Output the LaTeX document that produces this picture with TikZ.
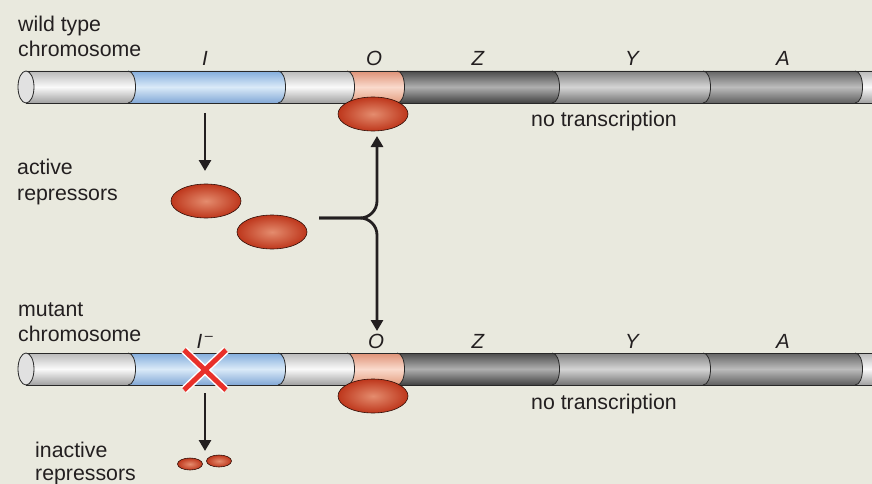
\documentclass[tikz,border=0pt]{standalone}
\usepackage{fontspec}
\setmainfont{Liberation Sans}
\usetikzlibrary{shapes.geometric,arrows.meta}

\definecolor{bg}{RGB}{233,233,222}
\definecolor{ink}{RGB}{35,31,32}
\definecolor{edgecol}{RGB}{40,40,40}
% tube segment colours: top / middle / bottom
\definecolor{wT}{RGB}{185,185,185}\definecolor{wM}{RGB}{250,250,250}\definecolor{wB}{RGB}{160,160,160}
\definecolor{bT}{RGB}{130,172,220}\definecolor{bM}{RGB}{218,234,248}\definecolor{bB}{RGB}{130,168,214}
\definecolor{pT}{RGB}{222,145,118}\definecolor{pM}{RGB}{250,218,204}\definecolor{pB}{RGB}{226,156,126}
\definecolor{zT}{RGB}{75,75,75}\definecolor{zM}{RGB}{175,175,175}\definecolor{zB}{RGB}{65,65,65}
\definecolor{yT}{RGB}{130,130,130}\definecolor{yM}{RGB}{212,212,212}\definecolor{yB}{RGB}{115,115,115}
\definecolor{aT}{RGB}{100,100,100}\definecolor{aM}{RGB}{188,188,188}\definecolor{aB}{RGB}{95,95,95}
\definecolor{capfill}{RGB}{225,225,225}
\definecolor{repIn}{RGB}{228,140,110}
\definecolor{repOut}{RGB}{190,55,28}
\definecolor{crossred}{RGB}{232,48,42}

% one segment of a chromosome tube from x=#1 to x=#2 with a rounded right end
\newcommand\tubeseg[5]{%
  \pgfmathsetmacro\bx{#2+10}%
  \shade[top color=#3, bottom color=#5, middle color=#4]
    (#1,\yt) -- (#2,\yt) .. controls (\bx,\yt) and (\bx,\yb) .. (#2,\yb) -- (#1,\yb) -- cycle;
  \draw[edge] (#2,\yt) .. controls (\bx,\yt) and (\bx,\yb) .. (#2,\yb);
}
% a whole chromosome with its top edge at y=#1
\newcommand\chromtube[1]{%
  \pgfmathsetmacro\yt{#1}\pgfmathsetmacro\yb{#1+32}%
  \tubeseg{855}{905}{wT}{wM}{wB}
  \tubeseg{703}{855}{aT}{aM}{aB}
  \tubeseg{552}{703}{yT}{yM}{yB}
  \tubeseg{397}{552}{zT}{zM}{zB}
  \tubeseg{347}{397}{pT}{pM}{pB}
  \tubeseg{278}{347}{wT}{wM}{wB}
  \tubeseg{128}{278}{bT}{bM}{bB}
  \tubeseg{26}{128}{wT}{wM}{wB}
  \draw[edge] (26,\yt) -- (905,\yt) (26,\yb) -- (905,\yb);
  \draw[edge, fill=capfill] (26,\yt+16) ellipse [x radius=8pt, y radius=16pt];
}

\tikzset{
  edge/.style={draw=edgecol, line width=0.8pt},
  label/.style={text=ink, font=\fontsize{21.3}{25}\selectfont, inner sep=0pt},
  gene/.style={text=ink, font=\fontsize{20.5}{24}\selectfont\itshape, inner sep=0pt, anchor=base},
  repressor/.style={ellipse, inner sep=0pt, minimum width=70pt, minimum height=34pt,
    draw=black!75!repOut, line width=0.6pt, inner color=repIn, outer color=repOut},
  smallrep/.style={repressor, minimum width=25pt, minimum height=12pt},
  flow/.style={draw=ink, line width=2.8pt, -{Triangle[width=12pt,length=11pt]}},
}

\begin{document}
\begin{tikzpicture}[x=1pt,y=-1pt]
\useasboundingbox (0,0) rectangle (872,484);
\fill[bg] (0,0) rectangle (872,484);
\clip (0,0) rectangle (872,484);

% wild type chromosome
\chromtube{71}
\node[label, anchor=base west] (wt1) at (18,32) {wild type};
\node[label, anchor=base west] (wt2) at (18,57) {chromosome};
\node[gene] (gI) at (205,66) {I};
\node[gene] (gO) at (374,66) {O};
\node[gene] (gZ) at (478,66) {Z};
\node[gene] (gY) at (632,66) {Y};
\node[gene] (gA) at (783,66) {A};
\node[repressor] (repOtop) at (373,114) {};
\node[label, anchor=base west] (nt1) at (531,127) {no transcription};

% active repressors
\node[label, anchor=base west] (ar1) at (17,174) {active};
\node[label, anchor=base west] (ar2) at (17,200) {repressors};
\node[repressor] (rep1) at (206,201) {};
\node[repressor] (rep2) at (272,232) {};
\coordinate (iSrc) at (205,113);
\coordinate (iDst) at (205,171);
\draw[flow] (iSrc) -- (iDst);

% bracket from the repressors to both operators
\coordinate (brStart) at (319,218);
\coordinate (upTip) at (377,136);
\coordinate (downTip) at (377,331);
\draw[flow, rounded corners=17pt] (brStart) -| (upTip);
\draw[flow, rounded corners=17pt] (brStart) -| (downTip);

% mutant chromosome
\chromtube{353}
\node[label, anchor=base west] (mc1) at (18,316) {mutant};
\node[label, anchor=base west] (mc2) at (18,341) {chromosome};
\node[gene] (mI) at (205,348) {I\textsuperscript{\,\upshape\textendash}};
\node[gene] (mO) at (376,348) {O};
\node[gene] (mZ) at (478,348) {Z};
\node[gene] (mY) at (632,348) {Y};
\node[gene] (mA) at (783,348) {A};
\node[repressor] (repObot) at (373,396) {};
\node[label, anchor=base west] (nt2) at (531,409) {no transcription};

% mutation mark on the I gene
\coordinate (xa) at (184,350); \coordinate (xb) at (226,390);
\coordinate (xc) at (226,350); \coordinate (xd) at (184,390);
\draw[white, line width=8pt] (xa) -- (xb) (xc) -- (xd);
\draw[crossred, line width=5pt] (xa) -- (xb) (xc) -- (xd);

% inactive repressors
\coordinate (mSrc) at (205,393);
\coordinate (mDst) at (205,451);
\draw[flow] (mSrc) -- (mDst);
\node[smallrep] (ir1) at (190,464) {};
\node[smallrep] (ir2) at (219,461) {};
\node[label, anchor=base west] (ia1) at (35,457) {inactive};
\node[label, anchor=base west] (ia2) at (35,480) {repressors};
\end{tikzpicture}
\end{document}
